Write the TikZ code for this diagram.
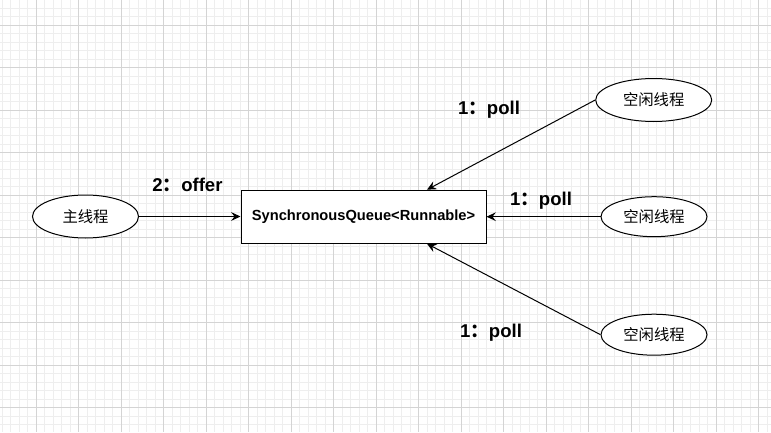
\documentclass[tikz,border=0pt]{standalone}
\usepackage{fontspec}
\setmainfont{Liberation Sans}
\newfontfamily\cjk{Noto Sans CJK SC}
\usetikzlibrary{shapes.geometric,arrows.meta}
\definecolor{minorgray}{RGB}{238,238,238}
\definecolor{majorgray}{RGB}{212,212,212}
\begin{document}
\begin{tikzpicture}[x=0.75pt,y=-0.75pt,
  thr/.style={draw, ellipse, line width=0.75pt, inner sep=0pt, fill=white, font=\cjk\fontsize{11.5}{13}\selectfont},
  box/.style={draw, rectangle, line width=0.75pt, inner sep=0pt, fill=white, minimum width=183.75pt, minimum height=39.75pt, font=\bfseries\fontsize{11}{13}\selectfont},
  conn/.style={line width=0.75pt, -{Stealth[length=7pt,width=6.5pt,inset=2.5pt]}},
  lbl/.style={font=\bfseries\fontsize{13.9}{16}\selectfont},
  gminor/.style={draw=minorgray, line width=0.75pt},
  gmajor/.style={draw=majorgray, line width=0.75pt}]
\useasboundingbox (0,0) rectangle (771,432);
\fill[white] (0,0) rectangle (771,432);
% grid
\foreach \i in {0,...,90} {\draw[gminor] (2+8.5*\i,0) -- (2+8.5*\i,432);}
\foreach \i in {0,...,50} {\draw[gminor] (0,8+8.5*\i) -- (771,8+8.5*\i);}
\foreach \i in {0,...,17} {\draw[gmajor] (36+42.5*\i,0) -- (36+42.5*\i,432);}
\foreach \i in {0,...,9} {\draw[gmajor] (0,25+42.5*\i) -- (771,25+42.5*\i);}
% nodes
\node[thr, minimum width=79.5pt, minimum height=32.25pt] (main) at (85.5,216.5) {主线程};
\node[box] (queue) at (363.5,216.7) {SynchronousQueue<Runnable>};
\node[thr, minimum width=87pt, minimum height=32.25pt] (idle1) at (653.7,100) {空闲线程};
\node[thr, minimum width=79.5pt, minimum height=30pt] (idle2) at (654,216.7) {空闲线程};
\node[thr, minimum width=79.5pt, minimum height=30.75pt] (idle3) at (654,334.7) {空闲线程};
% connectors
\draw[conn] (main.east) -- (queue.west |- main.east);
\draw[conn] (idle1.west) -- ([xshift=47.6pt]queue.north);
\draw[conn] (idle2.west) -- (queue.east |- idle2.west);
\draw[conn] (idle3.west) -- ([xshift=47.6pt]queue.south);
% labels
\node[lbl] (loffer) at (187.5,185) {2{\cjk ：}offer};
\node[lbl] (lpoll1) at (489,110) {1{\cjk ：}poll};
\node[lbl] (lpoll2) at (541,201) {1{\cjk ：}poll};
\node[lbl] (lpoll3) at (491,333) {1{\cjk ：}poll};
\end{tikzpicture}
\end{document}
